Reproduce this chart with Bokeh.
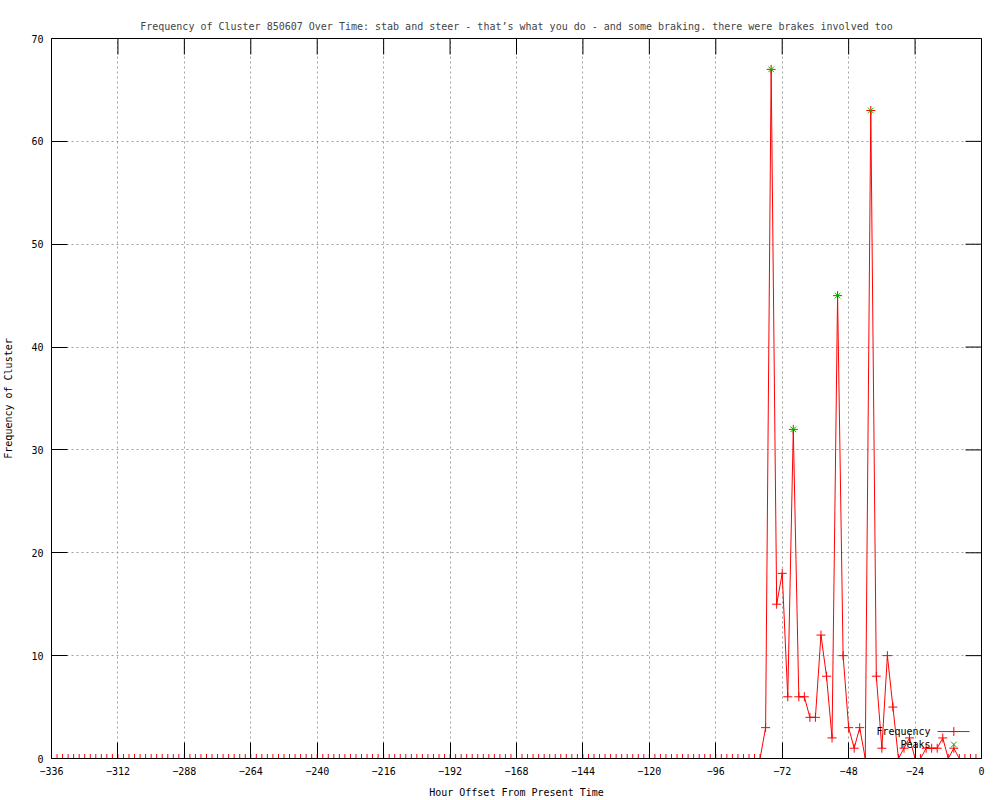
import math
from bokeh.plotting import figure
from bokeh.models import Range1d, FixedTicker, Label
from bokeh.embed import file_html
from bokeh.resources import INLINE

# ---------------- data ----------------
HOURS = list(range(-336, 1, 2))  # hour offsets, sampled every 2 hours
FREQUENCY = [0] * 129 + [
    3, 67, 15, 18, 6, 32, 6, 6, 4, 4,
    12, 8, 2, 45, 10, 3, 1, 3, 0, 63,
    8, 1, 10, 5, 0, 1, 2, 0, 0, 1,
    1, 1, 2, 0, 1, 0, 0, 0, 0, 0,
]
PEAK_HOURS = [-76, -68, -52, -40]
PEAK_VALUES = [67, 32, 45, 63]
X_TICKS = [-336, -312, -288, -264, -240, -216, -192, -168, -144, -120, -96, -72, -48, -24, 0]
Y_TICKS = [0, 10, 20, 30, 40, 50, 60, 70]
TITLE = ("Frequency of Cluster 850607 Over Time: stab and steer - that\u2019s what you do - "
         "and some braking. there were brakes involved too")
X_LABEL = "Hour Offset From Present Time"
Y_LABEL = "Frequency of Cluster"
SERIES_NAMES = ["Frequency", "Peaks"]

# ---------------- style ----------------
FONT = "DejaVu Sans Mono"
FS = "10px"
RED = "#ff0000"
GREEN = "#00c000"
GRID = "#a0a0a0"
X_MIN, X_MAX = -336, 0
Y_MIN, Y_MAX = 0, 70

p = figure(width=1000, height=800, output_backend="svg", toolbar_location=None,
           x_range=Range1d(X_MIN, X_MAX), y_range=Range1d(Y_MIN, Y_MAX),
           min_border_left=49, min_border_right=19, min_border_top=38, min_border_bottom=40,
           background_fill_color="white", border_fill_color="white")

p.title.text = TITLE
p.title.text_font = FONT
p.title.text_font_size = FS
p.title.text_font_style = "normal"
p.title.align = "center"
p.title.standoff = 14

p.outline_line_color = "black"
p.outline_line_alpha = 1.0
p.outline_line_width = 1

for ax, ticks in ((p.xaxis[0], X_TICKS), (p.yaxis[0], Y_TICKS)):
    ax.ticker = FixedTicker(ticks=ticks)
    ax.major_tick_in = 16
    ax.major_tick_out = 0
    ax.minor_tick_line_color = None
    ax.axis_line_color = "black"
    ax.major_tick_line_color = "black"
    ax.major_label_text_font = FONT
    ax.major_label_text_font_size = FS
    ax.major_label_text_color = "black"
    ax.axis_label_text_font = FONT
    ax.axis_label_text_font_size = FS
    ax.axis_label_text_font_style = "normal"
    ax.axis_label_text_color = "black"

p.xaxis.axis_label = X_LABEL
p.yaxis.axis_label = Y_LABEL
p.xaxis.major_label_standoff = 8
p.xaxis.axis_label_standoff = 9
p.yaxis.major_label_standoff = 8
p.yaxis.axis_label_standoff = 14
p.yaxis.major_label_orientation = "horizontal"

p.xgrid.ticker = FixedTicker(ticks=X_TICKS)
p.ygrid.ticker = FixedTicker(ticks=Y_TICKS)
for g in (p.xgrid[0], p.ygrid[0]):
    g.grid_line_color = GRID
    g.grid_line_dash = "2 3"
    g.grid_line_width = 1

# mirrored tick marks on the top and right borders (half of each dash is clipped by the frame)
p.scatter(X_TICKS, [Y_MAX] * len(X_TICKS), marker="dash", angle=math.pi / 2, size=32,
          line_color="black", line_width=1)
p.scatter([X_MAX] * len(Y_TICKS), Y_TICKS, marker="dash", size=32,
          line_color="black", line_width=1)

# ---------------- series ----------------
p.line(HOURS, FREQUENCY, line_color=RED, line_width=1)
p.scatter(HOURS, FREQUENCY, marker="cross", size=9, line_color=RED, line_width=1)
p.scatter(PEAK_HOURS, PEAK_VALUES, marker="x", size=8, line_color=GREEN, line_width=1)

# ---------------- gnuplot-style key (label left, sample right) ----------------
KEY_TEXT_X = -18.4
KEY_LINE_X = [-15.9, -4.3]
KEY_MARK_X = -10
KEY_ROW_Y = [2.62, 1.36]

p.line(KEY_LINE_X, [KEY_ROW_Y[0]] * 2, line_color=RED, line_width=1)
p.scatter([KEY_MARK_X], [KEY_ROW_Y[0]], marker="cross", size=9, line_color=RED)
p.scatter([KEY_MARK_X], [KEY_ROW_Y[1]], marker="x", size=8, line_color=GREEN)
for name, yy in zip(SERIES_NAMES, KEY_ROW_Y):
    p.add_layout(Label(x=KEY_TEXT_X, y=yy, text=name, text_align="right",
                       text_baseline="middle", text_font=FONT, text_font_size=FS,
                       text_color="black"))

open("out.html", "w").write(file_html(p, INLINE))
